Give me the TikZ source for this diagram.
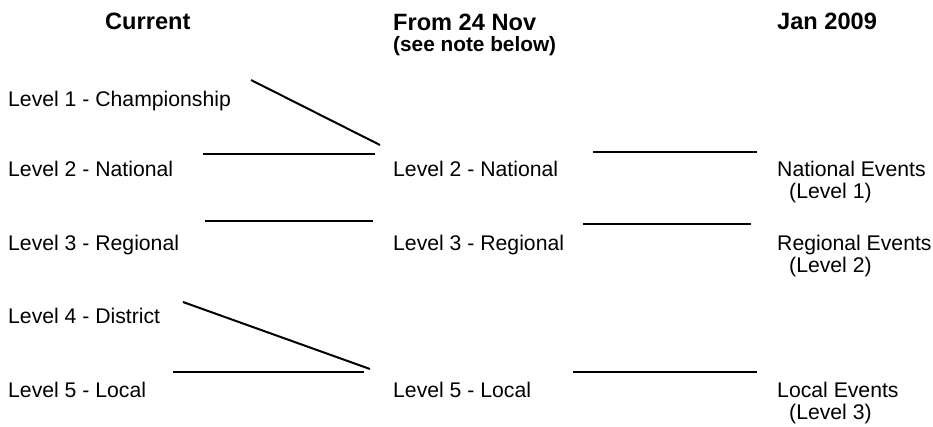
\documentclass[tikz,border=0pt]{standalone}
\usepackage{fontspec}
\setmainfont{Liberation Sans}
\begin{document}
\begin{tikzpicture}[x=1pt,y=-1pt,
    every node/.style={anchor=base west,inner sep=0pt,font=\fontsize{21.2}{25}\selectfont},
    head/.style={font=\fontsize{23.6}{28}\bfseries\selectfont},
    subhead/.style={font=\fontsize{20.8}{25}\bfseries\selectfont},
    link/.style={line width=2pt}]
  \useasboundingbox (0,0) rectangle (933,426);
  % column headings
  \draw
    (105,29) node[head] (cur){Current}
    (393,30) node[head] (nov){From 24 Nov}
    (393,51) node[subhead] (note){(see note below)}
    (777,29) node[head] (jan){Jan 2009};
  % current levels
  \draw
    (8,106) node (c1){Level 1 - Championship}
    (8,176) node (c2){Level 2 - National}
    (8,250) node (c3){Level 3 - Regional}
    (8,323) node (c4){Level 4 - District}
    (8,397) node (c5){Level 5 - Local};
  % from 24 nov
  \draw
    (393,176) node (n2){Level 2 - National}
    (393,250) node (n3){Level 3 - Regional}
    (393,397) node (n5){Level 5 - Local};
  % jan 2009
  \draw
    (777,176) node (j1){National Events}
    (789,198) node (j1l){(Level 1)}
    (777,250) node (j2){Regional Events}
    (789,272) node (j2l){(Level 2)}
    (777,397) node (j3){Local Events}
    (789,419) node (j3l){(Level 3)};
  % line ends
  \coordinate (a1) at (251,80);  \coordinate (a2) at (380,145);
  \coordinate (b1) at (203,154); \coordinate (b2) at (375,154);
  \coordinate (d1) at (205,221); \coordinate (d2) at (373,221);
  \coordinate (e1) at (183,302); \coordinate (e2) at (370,369);
  \coordinate (f1) at (173,372); \coordinate (f2) at (364,372);
  \coordinate (g1) at (593,152); \coordinate (g2) at (757,152);
  \coordinate (h1) at (583,224); \coordinate (h2) at (751,224);
  \coordinate (k1) at (573,372); \coordinate (k2) at (757,372);
  \begin{scope}[link]
    \draw (a1) to (a2);
    \draw (b1) to (b2);
    \draw (d1) to (d2);
    \draw (e1) to (e2);
    \draw (f1) to (f2);
    \draw (g1) to (g2);
    \draw (h1) to (h2);
    \draw (k1) to (k2);
  \end{scope}
\end{tikzpicture}
\end{document}
